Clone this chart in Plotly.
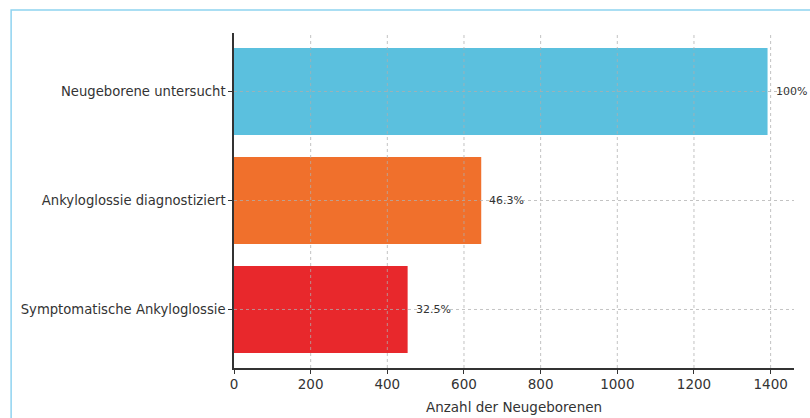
import plotly.graph_objects as go

categories = ["Neugeborene untersucht", "Ankyloglossie diagnostiziert", "Symptomatische Ankyloglossie"]
values = [1392, 645, 453]
pct_labels = ["100%", "46.3%", "32.5%"]
colors = ["#5bc0de", "#f0702c", "#e8282c"]
x_ticks = [0, 200, 400, 600, 800, 1000, 1200, 1400]
x_title = "Anzahl der Neugeborenen"

FONT = "DejaVu Sans"
TXT = "#333333"

fig = go.Figure()
fig.add_trace(go.Bar(
    x=values, y=categories, orientation="h",
    marker=dict(color=colors, line=dict(width=0)),
    width=0.8, cliponaxis=False, hoverinfo="skip",
))

# percentage labels to the right of each bar
for v, c, t in zip(values, categories, pct_labels):
    fig.add_annotation(x=v, y=c, xref="x", yref="y", text=t, showarrow=False,
                       xanchor="left", xshift=6,
                       font=dict(family=FONT, size=11, color=TXT))

# dotted grid drawn above the bars
grid_style = dict(color="rgba(175,175,175,0.75)", width=1, dash="dot")
for t in x_ticks[1:]:
    fig.add_shape(type="line", xref="x", yref="paper", x0=t, x1=t, y0=0, y1=1,
                  line=grid_style, layer="above")
for c in categories:
    fig.add_shape(type="line", xref="paper", yref="y", x0=0, x1=1, y0=c, y1=c,
                  line=grid_style, layer="above")

# light blue frame around the figure
fig.add_shape(type="rect", xref="paper", yref="paper",
              x0=-0.398, x1=1.05, y0=-0.2, y1=1.0687,
              line=dict(color="#8fd3f0", width=1.5), layer="below")

fig.update_layout(
    width=810, height=418,
    margin=dict(l=234, r=16, t=33, b=50, autoexpand=False),
    paper_bgcolor="white", plot_bgcolor="white",
    showlegend=False,
    font=dict(family=FONT, size=13, color=TXT),
    bargap=0.2,
)
fig.update_xaxes(
    range=[0, 1461], tickvals=x_ticks, ticktext=[str(t) for t in x_ticks],
    showgrid=False, zeroline=False,
    showline=True, linecolor="#333333", linewidth=1.5,
    ticks="outside", ticklen=4, tickcolor="#333333",
    tickfont=dict(family=FONT, size=13.5, color=TXT),
    ticklabelstandoff=-1,
    automargin=False,
    title=dict(text=x_title, font=dict(family=FONT, size=13.5, color=TXT), standoff=12),
    layer="above traces",
)
fig.update_yaxes(
    categoryorder="array", categoryarray=categories,
    range=[2.537, -0.537],
    showgrid=False, zeroline=False,
    showline=True, linecolor="#333333", linewidth=1.5,
    ticks="outside", ticklen=4, tickcolor="#333333",
    tickfont=dict(family=FONT, size=13.2, color=TXT),
    ticklabelstandoff=0,
    automargin=False,
    layer="above traces",
)

fig.write_html("out.html")
